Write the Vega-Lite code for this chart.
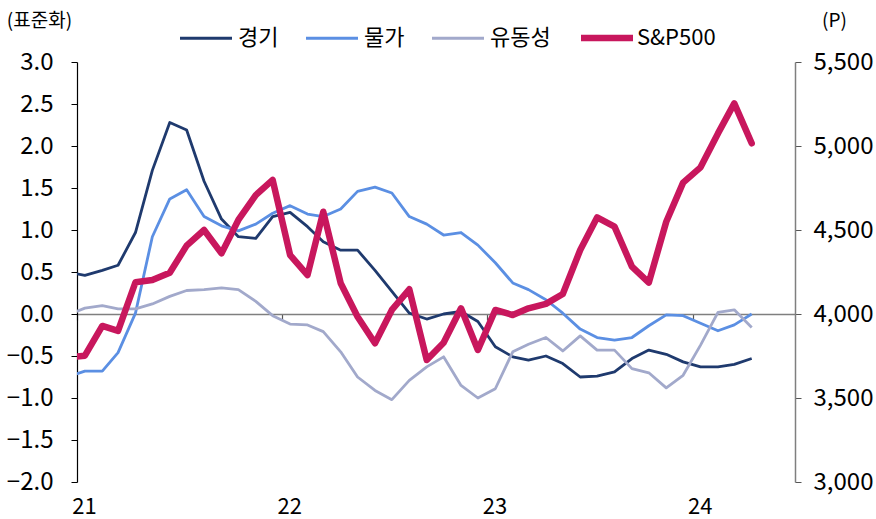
{
  "$schema": "https://vega.github.io/schema/vega-lite/v6.json",
  "width": 718,
  "height": 420,
  "autosize": {"type": "none"},
  "padding": {"left": 77, "top": 62, "right": 81, "bottom": 37},
  "background": "white",
  "config": {
    "view": {"stroke": null},
    "font": "Noto Sans CJK KR",
    "axis": {"grid": false, "labelFont": "Noto Sans CJK KR", "titleFont": "Noto Sans CJK KR", "labelColor": "#000", "titleColor": "#000", "labelFontSize": 24, "titleFontSize": 19, "titleFontWeight": "normal"},
    "legend": {"labelFont": "Noto Sans CJK KR", "labelColor": "#000"}
  },
  "data": {"values": [
    {"d": "2020-12-15", "경기": 0.50, "물가": -0.75, "유동성": -0.01, "S&P500": 3740},
    {"d": "2021-01-15", "경기": 0.46, "물가": -0.68, "유동성": 0.07, "S&P500": 3752},
    {"d": "2021-02-15", "경기": 0.52, "물가": -0.68, "유동성": 0.10, "S&P500": 3929},
    {"d": "2021-03-15", "경기": 0.58, "물가": -0.46, "유동성": 0.06, "S&P500": 3899},
    {"d": "2021-04-15", "경기": 0.97, "물가": 0.01, "유동성": 0.06, "S&P500": 4189},
    {"d": "2021-05-15", "경기": 1.71, "물가": 0.92, "유동성": 0.12, "S&P500": 4202},
    {"d": "2021-06-15", "경기": 2.28, "물가": 1.37, "유동성": 0.21, "S&P500": 4246},
    {"d": "2021-07-15", "경기": 2.19, "물가": 1.48, "유동성": 0.28, "S&P500": 4407},
    {"d": "2021-08-15", "경기": 1.58, "물가": 1.16, "유동성": 0.29, "S&P500": 4500},
    {"d": "2021-09-15", "경기": 1.13, "물가": 1.05, "유동성": 0.31, "S&P500": 4361},
    {"d": "2021-10-15", "경기": 0.92, "물가": 0.99, "유동성": 0.29, "S&P500": 4560},
    {"d": "2021-11-15", "경기": 0.90, "물가": 1.07, "유동성": 0.15, "S&P500": 4708},
    {"d": "2021-12-15", "경기": 1.16, "물가": 1.20, "유동성": -0.02, "S&P500": 4798},
    {"d": "2022-01-15", "경기": 1.21, "물가": 1.29, "유동성": -0.12, "S&P500": 4351},
    {"d": "2022-02-15", "경기": 1.04, "물가": 1.19, "유동성": -0.13, "S&P500": 4232},
    {"d": "2022-03-15", "경기": 0.86, "물가": 1.16, "유동성": -0.21, "S&P500": 4609},
    {"d": "2022-04-15", "경기": 0.76, "물가": 1.25, "유동성": -0.45, "S&P500": 4183},
    {"d": "2022-05-15", "경기": 0.76, "물가": 1.46, "유동성": -0.75, "S&P500": 3984},
    {"d": "2022-06-15", "경기": 0.52, "물가": 1.51, "유동성": -0.91, "S&P500": 3826},
    {"d": "2022-07-15", "경기": 0.27, "물가": 1.44, "유동성": -1.02, "S&P500": 4024},
    {"d": "2022-08-15", "경기": 0.01, "물가": 1.16, "유동성": -0.79, "S&P500": 4147},
    {"d": "2022-09-15", "경기": -0.06, "물가": 1.07, "유동성": -0.63, "S&P500": 3726},
    {"d": "2022-10-15", "경기": 0.00, "물가": 0.94, "유동성": -0.51, "S&P500": 3829},
    {"d": "2022-11-15", "경기": 0.03, "물가": 0.97, "유동성": -0.85, "S&P500": 4034},
    {"d": "2022-12-15", "경기": -0.09, "물가": 0.82, "유동성": -1.00, "S&P500": 3786},
    {"d": "2023-01-15", "경기": -0.39, "물가": 0.61, "유동성": -0.89, "S&P500": 4024},
    {"d": "2023-02-15", "경기": -0.51, "물가": 0.37, "유동성": -0.45, "S&P500": 3994},
    {"d": "2023-03-15", "경기": -0.55, "물가": 0.29, "유동성": -0.36, "S&P500": 4034},
    {"d": "2023-04-15", "경기": -0.50, "물가": 0.17, "유동성": -0.28, "S&P500": 4060},
    {"d": "2023-05-15", "경기": -0.59, "물가": 0.01, "유동성": -0.44, "S&P500": 4119},
    {"d": "2023-06-15", "경기": -0.75, "물가": -0.18, "유동성": -0.26, "S&P500": 4381},
    {"d": "2023-07-15", "경기": -0.74, "물가": -0.28, "유동성": -0.43, "S&P500": 4575},
    {"d": "2023-08-15", "경기": -0.69, "물가": -0.31, "유동성": -0.43, "S&P500": 4520},
    {"d": "2023-09-15", "경기": -0.53, "물가": -0.28, "유동성": -0.65, "S&P500": 4282},
    {"d": "2023-10-15", "경기": -0.43, "물가": -0.14, "유동성": -0.70, "S&P500": 4187},
    {"d": "2023-11-15", "경기": -0.48, "물가": -0.01, "유동성": -0.88, "S&P500": 4549},
    {"d": "2023-12-15", "경기": -0.57, "물가": -0.02, "유동성": -0.73, "S&P500": 4782},
    {"d": "2024-01-15", "경기": -0.63, "물가": -0.11, "유동성": -0.37, "S&P500": 4873},
    {"d": "2024-02-15", "경기": -0.63, "물가": -0.20, "유동성": 0.02, "S&P500": 5075},
    {"d": "2024-03-15", "경기": -0.60, "물가": -0.13, "유동성": 0.05, "S&P500": 5254},
    {"d": "2024-04-15", "경기": -0.53, "물가": 0.00, "유동성": -0.16, "S&P500": 5016}
  ]},
  "layer": [
    {
      "transform": [{"fold": ["경기", "물가", "유동성"], "as": ["series", "value"]}],
      "mark": {"type": "line", "clip": true, "strokeJoin": "round", "strokeWidth": 2.8},
      "encoding": {
        "x": {
          "field": "d", "type": "temporal",
          "scale": {"type": "utc", "domain": [{"year": 2021, "month": 1, "date": 1, "utc": true}, {"year": 2024, "month": 7, "date": 1, "utc": true}]},
          "axis": {
            "orient": "bottom", "offset": -168, "title": null,
            "values": [{"year": 2021, "month": 1, "date": 1, "utc": true}, {"year": 2022, "month": 1, "date": 1, "utc": true}, {"year": 2023, "month": 1, "date": 1, "utc": true}, {"year": 2024, "month": 1, "date": 1, "utc": true}],
            "format": "%y", "domainColor": "#7f7f7f", "domainWidth": 1.5, "tickColor": "#555", "tickSize": 6, "tickWidth": 1.2,
            "labelFontSize": 22, "labelPadding": 193, "labelAlign": "center", "labelOffset": 7, "labelBaseline": "alphabetic", "labelFlush": false
          }
        },
        "y": {
          "field": "value", "type": "quantitative",
          "scale": {"domain": [-2, 3], "nice": false, "zero": false},
          "axis": {
            "orient": "left", "values": [-2, -1.5, -1, -0.5, 0, 0.5, 1, 1.5, 2, 2.5, 3], "format": ".1f",
            "domainColor": "#000", "domainWidth": 1.2, "tickColor": "#000", "tickSize": 6, "labelPadding": 18,
            "title": "(표준화)", "titleAngle": 0, "titleX": -38, "titleY": -42, "titleAlign": "center", "titleBaseline": "middle"
          }
        },
        "color": {
          "field": "series", "type": "nominal",
          "scale": {"domain": ["경기", "물가", "유동성"], "range": ["#1F3A6E", "#5B8FE3", "#A2A9CB"]},
          "legend": {
            "title": null, "orient": "none", "direction": "horizontal", "legendX": 101.5, "legendY": -51.5,
            "symbolType": "stroke", "symbolSize": 2704, "symbolStrokeWidth": 3, "labelFontSize": 22,
            "labelOffset": 4.5, "columnPadding": 21, "padding": 0
          }
        }
      }
    },
    {
      "transform": [{"fold": ["S&P500"], "as": ["series", "value"]}],
      "mark": {"type": "line", "clip": true, "strokeJoin": "round", "strokeCap": "round", "strokeWidth": 6.5},
      "encoding": {
        "x": {"field": "d", "type": "temporal"},
        "y": {
          "field": "value", "type": "quantitative",
          "scale": {"domain": [3000, 5500], "nice": false, "zero": false},
          "axis": {
            "orient": "right", "values": [3000, 3500, 4000, 4500, 5000, 5500], "format": ",.0f",
            "domainColor": "#7f7f7f", "domainWidth": 1.5, "tickColor": "#555", "tickSize": 6, "labelPadding": 12,
            "title": "(P)", "titleAngle": 0, "titleX": 39, "titleY": -42, "titleAlign": "center", "titleBaseline": "middle"
          }
        },
        "color": {
          "field": "series", "type": "nominal",
          "scale": {"domain": ["S&P500"], "range": ["#C8175D"]},
          "legend": {
            "title": null, "orient": "none", "direction": "horizontal", "legendX": 500.5, "legendY": -53.5,
            "symbolType": "stroke", "symbolSize": 2704, "symbolStrokeWidth": 6.5, "labelFontSize": 22,
            "labelOffset": 0.5, "padding": 0
          }
        }
      }
    }
  ],
  "resolve": {"scale": {"y": "independent", "color": "independent"}}
}
